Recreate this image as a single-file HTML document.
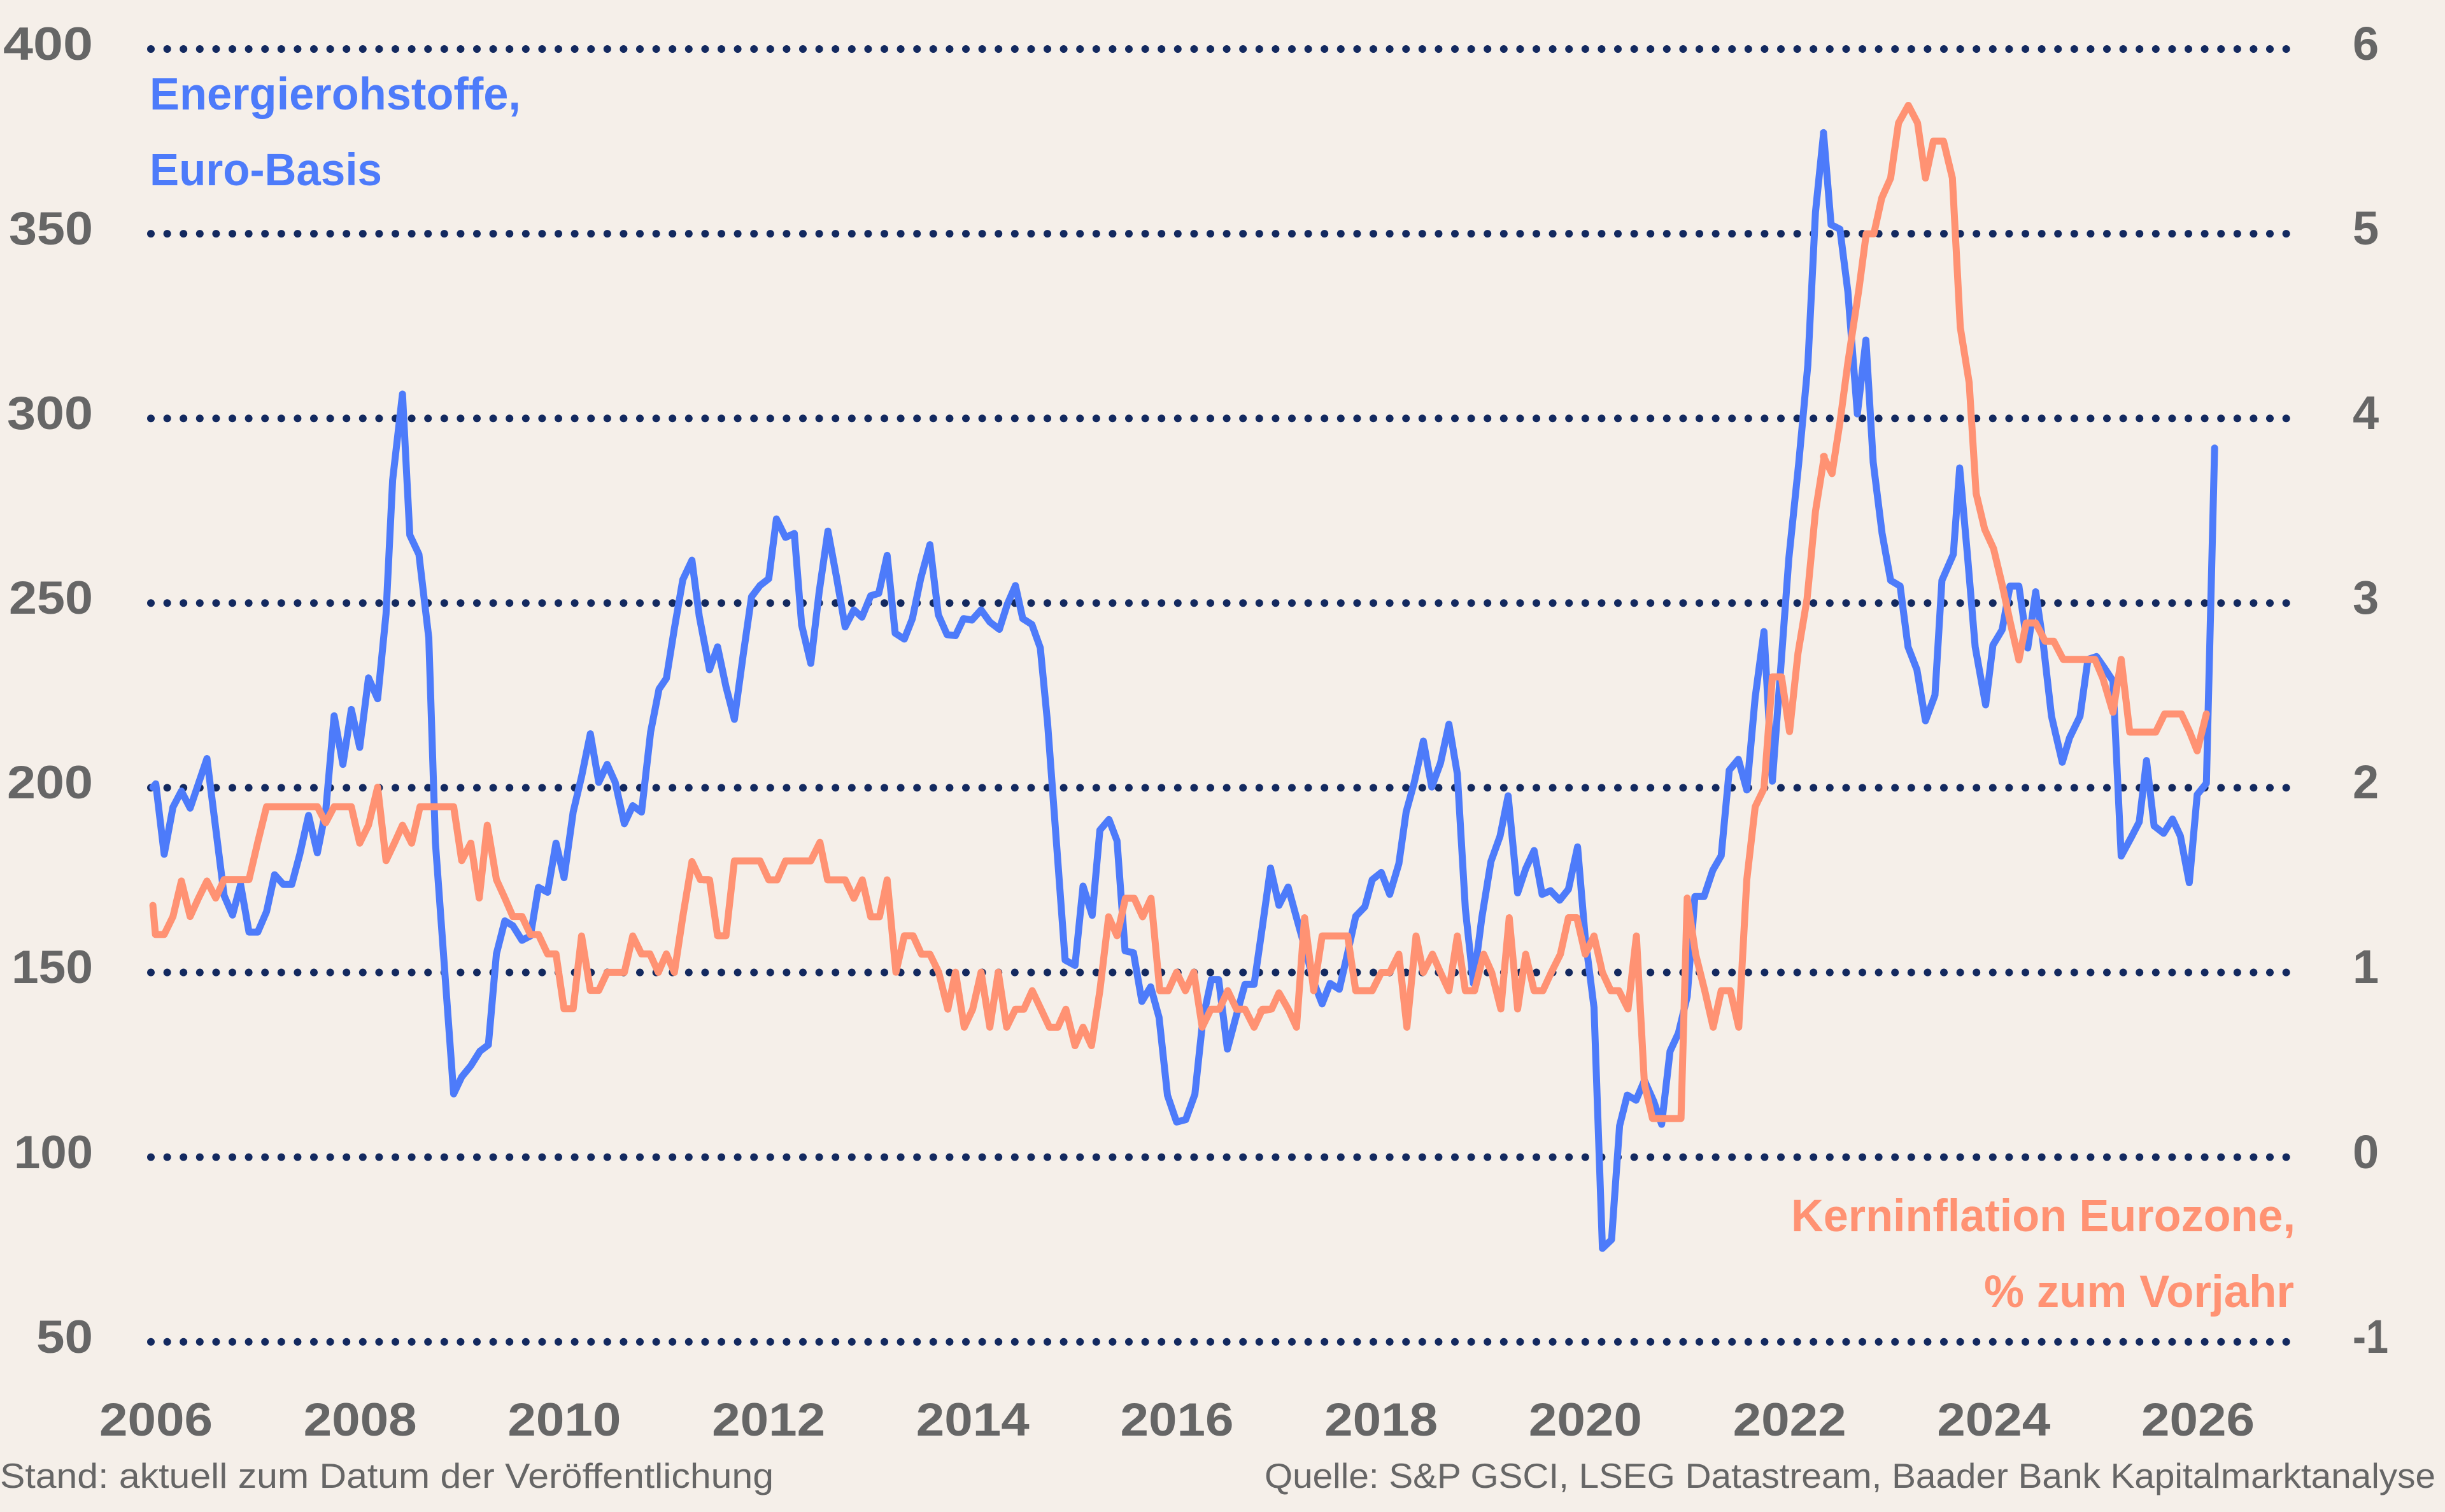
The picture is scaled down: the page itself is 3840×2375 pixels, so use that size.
<!DOCTYPE html>
<html>
<head>
<meta charset="utf-8">
<style>
html,body{margin:0;padding:0;background:#f5efe9;}
svg{display:block;}
text{font-family:"Liberation Sans", Arial, sans-serif;}
</style>
</head>
<body>
<svg width="3840" height="2375" viewBox="0 0 3840 2375" xmlns="http://www.w3.org/2000/svg">
<rect width="3840" height="2375" fill="#f5efe9"/>

<!-- gridlines -->
<g stroke="#13295f" stroke-width="12" stroke-linecap="round" stroke-dasharray="0 25.6" fill="none">
<line x1="237" x2="3600" y1="77" y2="77"/>
<line x1="237" x2="3600" y1="367.1" y2="367.1"/>
<line x1="237" x2="3600" y1="657.2" y2="657.2"/>
<line x1="237" x2="3600" y1="947.3" y2="947.3"/>
<line x1="237" x2="3600" y1="1237.4" y2="1237.4"/>
<line x1="237" x2="3600" y1="1527.5" y2="1527.5"/>
<line x1="237" x2="3600" y1="1817.6" y2="1817.6"/>
<line x1="237" x2="3600" y1="2107.7" y2="2107.7"/>
</g>

<!-- left axis labels -->
<g font-size="73" font-weight="bold" fill="#666666" text-anchor="end">
<text x="146" y="94" textLength="141" lengthAdjust="spacingAndGlyphs">400</text>
<text x="146" y="384" textLength="132" lengthAdjust="spacingAndGlyphs">350</text>
<text x="146" y="674" textLength="135" lengthAdjust="spacingAndGlyphs">300</text>
<text x="146" y="964" textLength="132" lengthAdjust="spacingAndGlyphs">250</text>
<text x="146" y="1254" textLength="135" lengthAdjust="spacingAndGlyphs">200</text>
<text x="146" y="1544" textLength="128" lengthAdjust="spacingAndGlyphs">150</text>
<text x="146" y="1835" textLength="124" lengthAdjust="spacingAndGlyphs">100</text>
<text x="146" y="2125" textLength="89" lengthAdjust="spacingAndGlyphs">50</text>
</g>

<!-- right axis labels -->
<g font-size="74" font-weight="bold" fill="#666666">
<text x="3695" y="94">6</text>
<text x="3695" y="384">5</text>
<text x="3695" y="674">4</text>
<text x="3695" y="964">3</text>
<text x="3695" y="1254">2</text>
<text x="3695" y="1544">1</text>
<text x="3695" y="1835">0</text>
<text x="3695" y="2125" textLength="56" lengthAdjust="spacingAndGlyphs">-1</text>
</g>

<!-- x axis labels -->
<g font-size="73" font-weight="bold" fill="#666666" text-anchor="middle">
<text x="245" y="2255" textLength="178" lengthAdjust="spacingAndGlyphs">2006</text>
<text x="565.7" y="2255" textLength="178" lengthAdjust="spacingAndGlyphs">2008</text>
<text x="886.4" y="2255" textLength="178" lengthAdjust="spacingAndGlyphs">2010</text>
<text x="1207.1" y="2255" textLength="178" lengthAdjust="spacingAndGlyphs">2012</text>
<text x="1527.8" y="2255" textLength="178" lengthAdjust="spacingAndGlyphs">2014</text>
<text x="1848.5" y="2255" textLength="178" lengthAdjust="spacingAndGlyphs">2016</text>
<text x="2169.2" y="2255" textLength="178" lengthAdjust="spacingAndGlyphs">2018</text>
<text x="2489.9" y="2255" textLength="178" lengthAdjust="spacingAndGlyphs">2020</text>
<text x="2810.6" y="2255" textLength="178" lengthAdjust="spacingAndGlyphs">2022</text>
<text x="3131.3" y="2255" textLength="178" lengthAdjust="spacingAndGlyphs">2024</text>
<text x="3452" y="2255" textLength="178" lengthAdjust="spacingAndGlyphs">2026</text>
</g>

<!-- series titles -->
<g font-size="71" font-weight="bold" fill="#4d7bfa">
<text x="235" y="172" textLength="583" lengthAdjust="spacingAndGlyphs">Energierohstoffe,</text>
<text x="235" y="291" textLength="365" lengthAdjust="spacingAndGlyphs">Euro-Basis</text>
</g>
<g font-size="71" font-weight="bold" fill="#ff9273" text-anchor="end">
<text x="3605" y="1934" textLength="792" lengthAdjust="spacingAndGlyphs">Kerninflation Eurozone,</text>
<text x="3603" y="2053" textLength="487" lengthAdjust="spacingAndGlyphs">% zum Vorjahr</text>
</g>

<!-- footer -->
<g font-size="55" fill="#666666">
<text x="0" y="2337" textLength="1215" lengthAdjust="spacingAndGlyphs">Stand: aktuell zum Datum der Veröffentlichung</text>
<text x="3825" y="2337" text-anchor="end" textLength="1839" lengthAdjust="spacingAndGlyphs">Quelle: S&amp;P GSCI, LSEG Datastream, Baader Bank Kapitalmarktanalyse</text>
</g>

<!-- BLUE series -->
<g fill="none" stroke="#4d7bfa" stroke-width="11" stroke-linejoin="round" stroke-linecap="round">
<g transform="translate(220,551.8) scale(0.574,0.7634)">
<polyline vector-effect="non-scaling-stroke" points="35,897 43,890 66,1035 90,938 113,905 137,940 183,838 230,1120 253,1160 275,1097 298,1195 322,1195 346,1153 368,1077 392,1097 415,1097 437,1035 461,955 485,1032 508,945 531,750 555,850 578,737 601,815 625,672 650,715 673,540 691,265 718,88 738,378 763,418 790,590 808,1010 835,1290 858,1528 880,1493 905,1470 930,1440 953,1427 975,1240 998,1172 1020,1182 1045,1212 1068,1203 1090,1103 1115,1113 1138,1012 1160,1083 1185,948 1208,875 1232,787 1255,887 1278,850 1300,887 1325,972 1348,935 1372,948 1397,783 1420,695 1440,673 1462,570 1485,470 1510,430 1530,545 1558,655"/>
</g>
<g transform="translate(1100,700.5) scale(0.574,0.764)">
<polyline vector-effect="non-scaling-stroke" points="25,460 47,413 70,495 93,562 117,430 140,310 163,287 187,273 208,150 233,188 257,180 277,368 302,447 325,300 349,175 373,272 396,372 420,337 442,352 466,308 488,303 511,225 533,385 558,397 580,355 603,272 628,203 651,347 675,388 698,390 720,355 743,358 768,337 792,362 818,377 840,325 862,287 882,355 907,367 930,415 950,570 998,1057 1025,1068 1047,905 1072,965 1093,790 1118,768 1140,812 1162,1038 1185,1042 1208,1142 1232,1112 1255,1175 1278,1335 1303,1390 1328,1385 1353,1333 1375,1178 1398,1097 1418,1097 1442,1240 1465,1175 1490,1107 1515,1107 1537,992 1560,868"/>
</g>
<g transform="translate(1980,200.9) scale(0.574,1.1466)">
<polyline vector-effect="non-scaling-stroke" points="26.8,1014 50,1065 75,1040 98,1082 122,1125 145,1170 168,1200 190,1172 215,1180 238,1130 260,1080 285,1067 305,1030 330,1020 353,1050 378,1008 398,937 420,897 445,840 468,903 492,870 515,817 538,885 560,1070 582,1172 605,1082 630,1005 655,970 677,915 703,1048 725,1015 748,990 770,1050 793,1045 818,1058 842,1043 867,985 888,1110 912,1205 935,1535 960,1523 982,1367 1003,1325 1027,1332 1050,1305 1075,1333 1097,1365 1120,1265 1143,1240 1167,1190 1188,1053 1213,1053 1237,1017 1260,997 1282,880 1307,865 1330,907 1353,780 1377,690 1400,895 1445,590 1472,460 1497,325 1518,115 1540,8"/>
</g>
<g transform="translate(2840,101.2) scale(0.4974,0.8926)">
<polyline vector-effect="non-scaling-stroke" points="48,120 72,282 100,290 125,400 155,615 182,485 205,700 233,825 260,908 290,918 315,1025 343,1065 370,1155 400,1110 422,908 458,862 478,710 502,860 527,1025 560,1127 583,1022 612,995 637,918 665,918 693,1027 718,928 742,1020 768,1147 802,1228 825,1185 858,1147 883,1047 910,1042 935,1062 962,1085 988,1393 1020,1360 1045,1333 1068,1225 1092,1340 1122,1353 1150,1328 1175,1358 1203,1440 1228,1285 1257,1265 1283,675"/>
</g>
</g>

<!-- ORANGE series -->
<g fill="none" stroke="#ff9273" stroke-width="11" stroke-linejoin="round" stroke-linecap="round">
<g transform="translate(220,551.8) scale(0.574,0.7634)">
<polyline vector-effect="non-scaling-stroke" points="35,1140 42,1200 66,1200 90,1163 113,1090 137,1163 160,1125 183,1090 207,1125 230,1087 298,1087 322,1010 346,937 485,937 508,970 531,937 578,937 601,1012 625,975 650,897 673,1048 697,1010 718,975 743,1012 766,937 858,937 880,1048 905,1012 928,1125 950,975 975,1087 998,1125 1020,1163 1045,1163 1068,1200 1090,1200 1115,1240 1138,1240 1160,1353 1185,1353 1208,1203 1232,1315 1255,1315 1278,1278 1325,1278 1348,1203 1372,1240 1395,1240 1418,1278 1440,1240 1462,1278 1485,1163 1510,1050 1533,1087 1555,1087"/>
</g>
<g transform="translate(1100,700.5) scale(0.574,0.764)">
<polyline vector-effect="non-scaling-stroke" points="10,892 25,892 47,1007 70,1007 93,853 163,853 187,892 210,892 233,853 302,853 327,815 348,892 396,892 420,930 443,892 466,968 490,968 511,892 535,1082 558,1007 582,1007 605,1045 628,1045 652,1082 677,1158 698,1082 722,1195 745,1158 768,1082 792,1195 815,1082 838,1195 862,1158 885,1158 908,1120 932,1158 955,1195 978,1195 1000,1158 1025,1233 1047,1195 1070,1233 1093,1120 1117,968 1140,1007 1163,930 1187,930 1210,968 1233,930 1257,1120 1280,1120 1303,1082 1327,1120 1350,1082 1373,1195 1397,1158 1420,1158 1443,1120 1467,1158 1490,1158 1515,1195 1538,1158 1560,1158"/>
</g>
<g transform="translate(1980,200.9) scale(0.574,1.1466)">
<polyline vector-effect="non-scaling-stroke" points="0,1210 30,1207 50,1185 75,1207 98,1232 120,1082 145,1182 168,1107 238,1107 260,1182 305,1182 330,1157 353,1157 378,1132 400,1232 425,1107 445,1157 470,1132 492,1157 515,1182 538,1107 560,1182 585,1182 610,1132 632,1157 657,1207 680,1082 703,1207 725,1132 748,1182 772,1182 795,1157 820,1132 842,1082 865,1082 888,1132 912,1107 935,1157 958,1182 980,1182 1005,1207 1028,1107 1050,1310 1072,1357 1150,1357 1167,1055 1190,1132 1215,1182 1238,1232 1260,1182 1285,1182 1308,1232 1330,1030 1353,930 1377,905 1400,752 1425,752 1447,827 1470,720 1495,645 1518,525 1542,450"/>
</g>
<g transform="translate(2840,101.2) scale(0.4974,0.8926)">
<polyline vector-effect="non-scaling-stroke" points="48,690 75,720 100,630 125,525 160,395 183,298 207,298 232,235 260,200 285,103 316,72 345,103 370,200 395,135 427,135 455,200 480,463 508,560 530,755 557,818 585,852 612,915 637,980 665,1048 688,983 718,983 748,1015 775,1015 805,1047 905,1047 930,1080 962,1140 988,1047 1015,1175 1097,1175 1125,1143 1178,1143 1203,1173 1228,1208 1257,1143"/>
</g>
</g>

</svg>
</body>
</html>
